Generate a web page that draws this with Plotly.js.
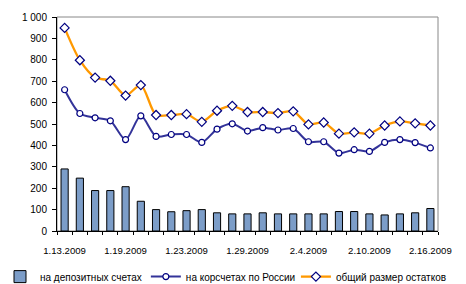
<!DOCTYPE html>
<html><head><meta charset="utf-8">
<script src="https://cdn.plot.ly/plotly-3.0.1.min.js"></script>
<style>html,body{margin:0;padding:0;background:#fff}#chart{width:466px;height:284px}</style>
</head><body><div id="chart"></div>
<script>
const dates = ["1.13.2009","1.14.2009","1.15.2009","1.16.2009","1.19.2009","1.20.2009","1.21.2009","1.22.2009","1.23.2009","1.26.2009","1.27.2009","1.28.2009","1.29.2009","1.30.2009","2.2.2009","2.3.2009","2.4.2009","2.5.2009","2.6.2009","2.9.2009","2.10.2009","2.11.2009","2.12.2009","2.13.2009","2.16.2009"];
const tickDates = ["1.13.2009","1.19.2009","1.23.2009","1.29.2009","2.4.2009","2.10.2009","2.16.2009"];
const deposits = [290,247,189,189,207,139,100,90,95,100,85,80,80,85,80,80,80,80,91,91,80,75,80,85,105];
const corr = [660,549,529,515,427,538,442,451,451,414,476,501,467,483,472,479,417,417,364,380,372,414,427,413,388];
const total = [949,798,717,702,633,682,542,542,546,510,562,585,556,556,551,559,498,507,455,461,455,493,512,503,493];
const names = ["на депозитных счетах","на корсчетах по России","общий размер остатков"];

const font = {family:"Liberation Sans, Arial, sans-serif", size:10, color:"#000"};
const traces = [
  {type:"bar", x:dates, y:deposits, name:names[0], width:0.47, legend:"legend",
   marker:{color:"#7C9DC8", line:{color:"#000", width:1}}},
  {type:"scatter", mode:"lines+markers", x:dates, y:corr, name:names[1], legend:"legend2",
   line:{color:"#333399", width:2, shape:"spline", smoothing:0.8},
   marker:{symbol:"circle", size:6, color:"#fff", line:{color:"#000080", width:1.2}}},
  {type:"scatter", mode:"lines+markers", x:dates, y:total, name:names[2], legend:"legend3",
   line:{color:"#FF9900", width:2.3, shape:"spline", smoothing:0.8},
   marker:{symbol:"diamond", size:7, color:"#fff", line:{color:"#000080", width:1.2}}}
];
function leg(x){
  return {orientation:"h", xref:"container", yref:"container", x:x, xanchor:"left",
    y:0.026, yanchor:"middle", bgcolor:"rgba(0,0,0,0)", borderwidth:0,
    font:{family:font.family, size:10, color:"#000"}, itemwidth:30};
}
const layout = {
  width:466, height:284,
  margin:{l:57, r:28, t:17, b:52.5, autoexpand:false},
  paper_bgcolor:"#fff", plot_bgcolor:"#fff",
  font:font, separators:", ",
  showlegend:true, bargap:0.5,
  xaxis:{type:"category", categoryorder:"array", categoryarray:dates,
    range:[-0.5, dates.length-0.5],
    tickvals:dates, ticktext:dates.map(d => tickDates.includes(d) ? d : ""),
    tickangle:0, ticks:"outside", ticklen:3, tickcolor:"#000", tickson:"boundaries",
    ticklabelstandoff:10, showgrid:false,
    showline:true, linecolor:"#000", linewidth:1, zeroline:false,
    tickfont:{family:font.family, size:9.6, color:"#000"}, fixedrange:true},
  yaxis:{range:[0,1000], dtick:100, tick0:0, ticks:"outside", ticklen:4, tickcolor:"#000",
    showgrid:false, showline:true, linecolor:"#000", linewidth:1, zeroline:false,
    ticklabelstandoff:3,
    separatethousands:true, tickfont:{family:font.family, size:10, color:"#000"}},
  shapes:[{type:"rect", xref:"paper", yref:"paper", x0:0, x1:1, y0:0, y1:1,
    line:{color:"#888", width:1}, layer:"below"}],
  legend:leg(0.0), legend2:leg(0.313), legend3:leg(0.635)
};
Plotly.newPlot("chart", traces, layout, {staticPlot:true, displayModeBar:false});
</script></body></html>
